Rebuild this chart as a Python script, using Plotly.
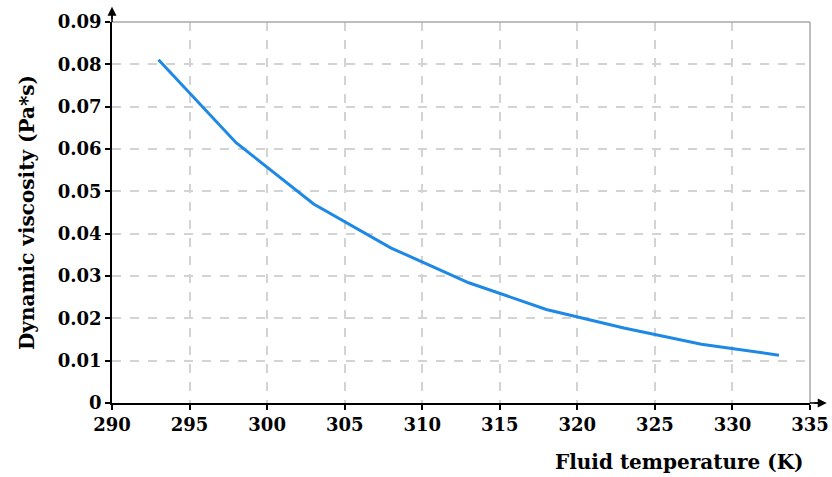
import plotly.graph_objects as go

temperature_K = [293, 298, 303, 308, 313, 318, 323, 328, 333]
viscosity_Pas = [0.0811, 0.0615, 0.0470, 0.0366, 0.0284, 0.0221, 0.0177, 0.0139, 0.0113]
x_ticks = [290, 295, 300, 305, 310, 315, 320, 325, 330, 335]
y_ticks = [0, 0.01, 0.02, 0.03, 0.04, 0.05, 0.06, 0.07, 0.08, 0.09]

FONT = "DejaVu Serif"
FS = 18
TFS = 20

fig = go.Figure()
fig.add_trace(go.Scatter(
    x=temperature_K, y=viscosity_Pas, mode="lines",
    line=dict(color="#1E88E5", width=3), showlegend=False,
))

fig.update_layout(
    width=832, height=477,
    margin=dict(l=112, r=22, t=22, b=74, autoexpand=False),
    paper_bgcolor="white", plot_bgcolor="white",
    font=dict(family=FONT, size=FS, color="black", weight="bold"),
    xaxis=dict(
        range=[290, 335], tickvals=x_ticks, ticktext=[str(v) for v in x_ticks],
        showgrid=True, gridcolor="#D3D3D3", griddash="dash", gridwidth=1.5,
        showline=True, linecolor="black", linewidth=1.5,
        ticks="outside", ticklen=5, tickcolor="black", tickwidth=1.5,
        zeroline=False, automargin=False,
        tickfont=dict(family=FONT, size=FS, color="black", weight="bold"),
    ),
    yaxis=dict(
        range=[0, 0.09], tickvals=y_ticks,
        ticktext=["0"] + [f"{v:.2f}" for v in y_ticks[1:]],
        showgrid=True, gridcolor="#D3D3D3", griddash="dash", gridwidth=1.5,
        showline=True, linecolor="black", linewidth=1.5,
        ticks="outside", ticklen=5, tickcolor="black", tickwidth=1.5,
        zeroline=False, automargin=False,
        tickfont=dict(family=FONT, size=FS, color="black", weight="bold"),
        title=dict(text="Dynamic viscosity (Pa*s)", standoff=18,
                   font=dict(family=FONT, size=TFS, color="black", weight="bold")),
    ),
    shapes=[
        dict(type="line", xref="paper", yref="paper", x0=0, x1=1, y0=1, y1=1,
             line=dict(color="#A9A9A9", width=1.5)),
        dict(type="line", xref="paper", yref="paper", x0=1, x1=1, y0=0, y1=1,
             line=dict(color="#A9A9A9", width=1.5)),
        dict(type="line", xref="paper", yref="paper", x0=0, x1=0, y0=1, y1=1.03,
             line=dict(color="black", width=1.5)),
        dict(type="line", xref="paper", yref="paper", x0=1, x1=1.018, y0=0, y1=0,
             line=dict(color="black", width=1.5)),
    ],
    annotations=[
        dict(xref="paper", yref="paper", x=0, y=1.04, ax=0, ay=14,
             showarrow=True, arrowhead=2, arrowsize=1.2, arrowwidth=1.5,
             arrowcolor="black", text=""),
        dict(xref="paper", yref="paper", x=1.024, y=0, ax=-14, ay=0,
             showarrow=True, arrowhead=2, arrowsize=1.2, arrowwidth=1.5,
             arrowcolor="black", text=""),
        dict(xref="paper", yref="paper", x=0.813, y=-0.155, xanchor="center", yanchor="middle",
             showarrow=False, text="Fluid temperature (K)",
             font=dict(family=FONT, size=TFS, color="black", weight="bold")),
    ],
)

fig.write_html(
    "out.html",
    config={"displayModeBar": False},
    post_script="document.body.style.margin='0';document.body.style.overflow='hidden';",
)
